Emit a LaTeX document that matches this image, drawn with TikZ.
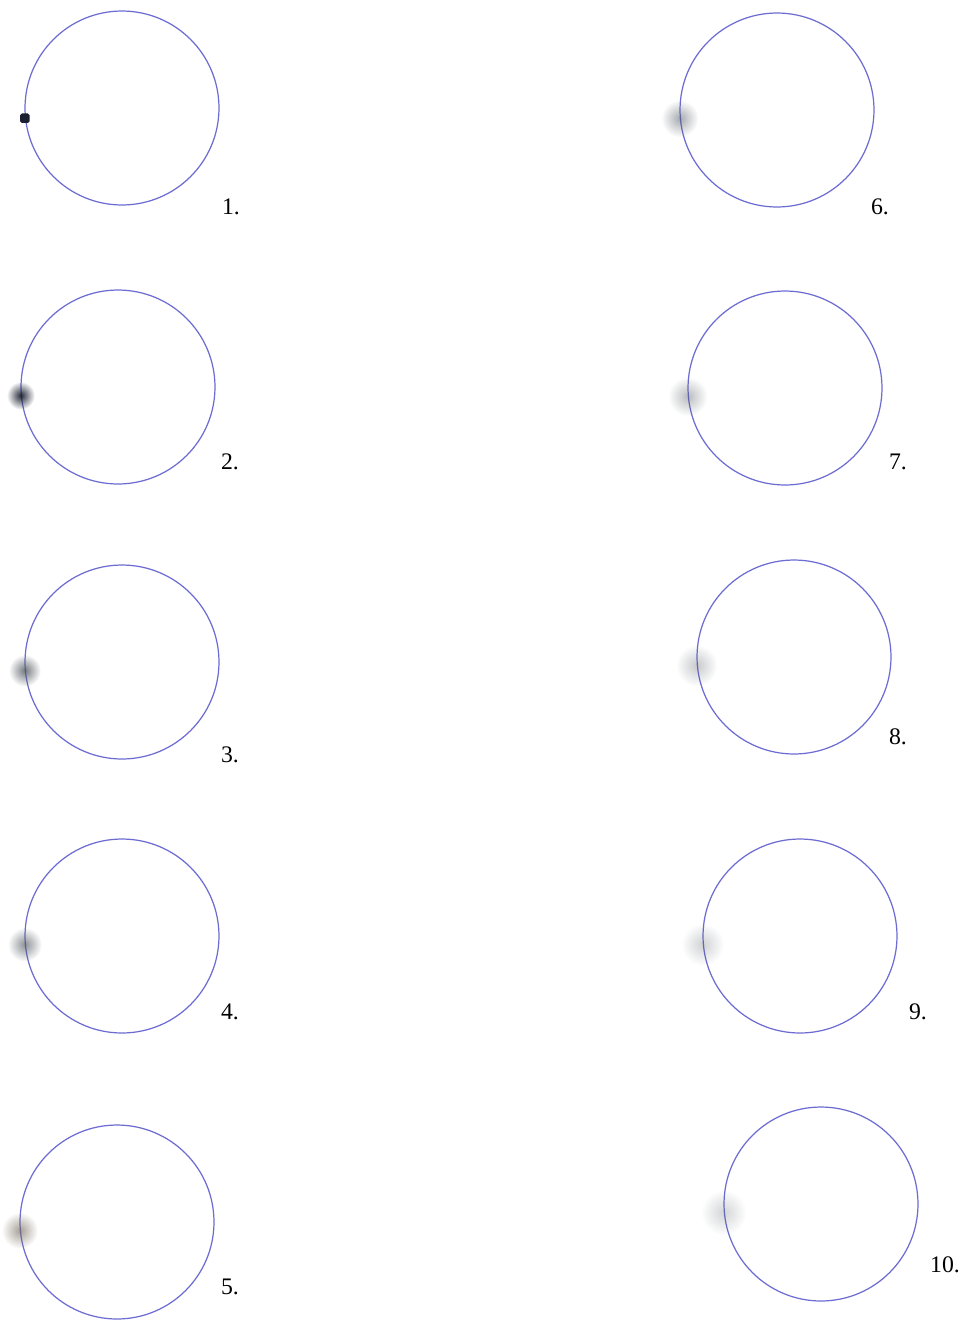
\documentclass[tikz,border=0pt]{standalone}
\usepackage{fontspec}
\setmainfont{Liberation Serif}
\usetikzlibrary{fadings}
\definecolor{ringblue}{HTML}{6C6CD2}
\definecolor{spot}{HTML}{1A2030}
\definecolor{spotgrey}{HTML}{505860}
\definecolor{spotbrown}{HTML}{6E6252}
\tikzfading[name=blur,inner color=transparent!0,outer color=transparent!100]
\tikzset{ring/.style={circle,draw=ringblue,line width=.7pt,minimum size=3.88cm,inner sep=0pt},dot/.style={rectangle,rounded corners=1pt,inner sep=0pt,fill=spot,minimum size=.19cm},haze/.style={circle,inner sep=0pt,path fading=blur,fill=spotgrey},num/.style={font=\fontsize{13.5}{15}\selectfont,inner sep=0pt}}
\begin{document}
\begin{tikzpicture}[x=.02cm,y=-.02cm]
\useasboundingbox[fill=white] (0,0) rectangle (967,1322);

% left column
\node[ring] (c1) at (122,108) {};
\node[ring] (c2) at (118,387) {};
\node[ring] (c3) at (122,662) {};
\node[ring] (c4) at (122,936) {};
\node[ring] (c5) at (117,1222) {};
\node[dot] (d1) at (c1.186) {};
\node[haze,minimum size=.56cm,fill opacity=.95,fill=spot] (d2) at (c2.185) {};
\node[haze,minimum size=.64cm,fill opacity=.8] (d3) at (c3.185) {};
\node[haze,minimum size=.68cm,fill opacity=.65] (d4) at (c4.185) {};
\node[haze,minimum size=.72cm,fill opacity=.6,fill=spotbrown] (d5) at (c5.185) {};
\node[num] (n1) at (231,207) {1.};
\node[num] (n2) at (230,462) {2.};
\node[num] (n3) at (230,755) {3.};
\node[num] (n4) at (230,1012) {4.};
\node[num] (n5) at (230,1287) {5.};

% right column
\node[ring] (c6) at (777,110) {};
\node[ring] (c7) at (785,388) {};
\node[ring] (c8) at (794,657) {};
\node[ring] (c9) at (800,936) {};
\node[ring] (c10) at (821,1204) {};
\node[haze,minimum size=.74cm,fill opacity=.5] (d6) at (c6.185) {};
\node[haze,minimum size=.78cm,fill opacity=.4] (d7) at (c7.185) {};
\node[haze,minimum size=.82cm,fill opacity=.32] (d8) at (c8.185) {};
\node[haze,minimum size=.84cm,fill opacity=.27] (d9) at (c9.185) {};
\node[haze,minimum size=.9cm,fill opacity=.25] (d10) at (c10.185) {};
\node[num] (n6) at (880,207) {6.};
\node[num] (n7) at (898,462) {7.};
\node[num] (n8) at (898,737) {8.};
\node[num] (n9) at (918,1012) {9.};
\node[num] (n10) at (945,1265) {10.};
\end{tikzpicture}
\end{document}
